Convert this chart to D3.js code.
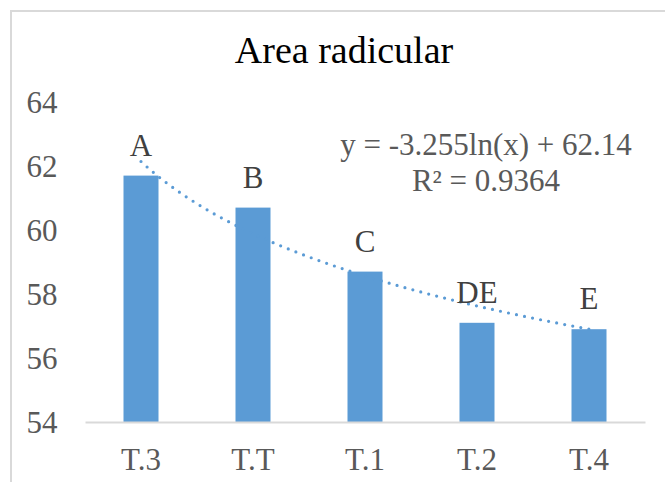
<!DOCTYPE html>
<html>
<head>
<meta charset="utf-8">
<script src="https://cdn.jsdelivr.net/npm/d3@7"></script>
<style>
  html, body { margin: 0; padding: 0; background: #fff; }
  svg { display: block; }
</style>
</head>
<body>
<svg id="chart" width="665" height="482"></svg>
<script>
// Root area per treatment
const categories = ["T.3", "T.T", "T.1", "T.2", "T.4"];
const values = [61.7, 60.7, 58.7, 57.1, 56.9];
const groupLetters = ["A", "B", "C", "DE", "E"];
const yTicks = [54, 56, 58, 60, 62, 64];
// Logarithmic trendline: y = a*ln(x) + b
const trendCoef = [-3.255, 62.14];
const trendLabel = ["y = -3.255ln(x) + 62.14", "R\u00B2 = 0.9364"];
const title = "Area radicular";

const FONT = '"Liberation Serif", "Times New Roman", serif';
const svg = d3.select("#chart").style("font-family", FONT);
const W = 665, H = 482;
const plot = { left: 85, right: 645, top: 102, bottom: 422 };
const barColor = "#5b9bd5";

// Chart frame (only top/left edges fall inside the view)
svg.append("rect")
  .attr("x", 11).attr("y", 11)
  .attr("width", W + 20).attr("height", H + 20)
  .attr("fill", "#fff").attr("stroke", "#d9d9d9").attr("stroke-width", 2);

const x = d3.scaleBand()
  .domain(categories)
  .range([plot.left, plot.right])
  .paddingInner(0.6875)
  .paddingOuter(0.34375);

const y = d3.scaleLinear()
  .domain([54, 64])
  .range([plot.bottom, plot.top]);

// Title
svg.append("text")
  .attr("x", 344).attr("y", 63)
  .attr("text-anchor", "middle")
  .style("font-family", FONT)
  .style("font-size", "38px")
  .attr("fill", "#000")
  .text(title);

// Y axis labels
const yAxis = d3.axisLeft(y).tickValues(yTicks).tickSize(0).tickPadding(0).tickFormat(d3.format("d"));
const gy = svg.append("g").attr("transform", `translate(${57.5},0)`).call(yAxis);
gy.attr("font-family", null).attr("font-size", null);
gy.select(".domain").remove();
gy.selectAll("text")
  .style("font-family", FONT)
  .style("font-size", "31px")
  .attr("fill", "#595959")
  .attr("dy", "0.34em");

// Bars
svg.append("g").selectAll("rect")
  .data(values)
  .join("rect")
  .attr("x", (d, i) => x(categories[i]))
  .attr("y", d => y(d))
  .attr("width", x.bandwidth())
  .attr("height", d => y(54) - y(d))
  .attr("fill", barColor);

// X axis
const xAxis = d3.axisBottom(x).tickSize(0).tickSizeOuter(0).tickPadding(0);
const gx = svg.append("g").attr("transform", `translate(0,${plot.bottom})`).call(xAxis);
gx.attr("font-family", null).attr("font-size", null);
gx.select(".domain").attr("stroke", "#d9d9d9").attr("stroke-width", 2);
gx.selectAll("text")
  .style("font-family", FONT)
  .style("font-size", "31px")
  .attr("fill", "#595959")
  .attr("dy", null)
  .attr("y", 48);

// Trendline across category positions 1..5
const xi = d3.scaleLinear()
  .domain([1, categories.length])
  .range([x(categories[0]) + x.bandwidth() / 2, x(categories[categories.length - 1]) + x.bandwidth() / 2]);
const trendPts = d3.range(1, categories.length + 0.001, 0.05)
  .map(t => [xi(t), y(trendCoef[0] * Math.log(t) + trendCoef[1])]);
svg.append("path")
  .attr("d", d3.line()(trendPts))
  .attr("fill", "none")
  .attr("stroke", barColor)
  .attr("stroke-width", 3.2)
  .attr("stroke-linecap", "round")
  .attr("stroke-dasharray", "0 8.2");

// Significance letters above bars
svg.append("g").selectAll("text")
  .data(values)
  .join("text")
  .attr("x", (d, i) => x(categories[i]) + x.bandwidth() / 2)
  .attr("y", d => y(d) - 20)
  .attr("text-anchor", "middle")
  .style("font-family", FONT)
  .style("font-size", "31px")
  .attr("fill", "#404040")
  .text((d, i) => groupLetters[i]);

// Trendline equation
svg.append("g").selectAll("text")
  .data(trendLabel)
  .join("text")
  .attr("x", 486)
  .attr("y", (d, i) => 155 + i * 36)
  .attr("text-anchor", "middle")
  .style("font-family", FONT)
  .style("font-size", "31px")
  .attr("fill", "#595959")
  .text(d => d);
</script>
</body>
</html>
